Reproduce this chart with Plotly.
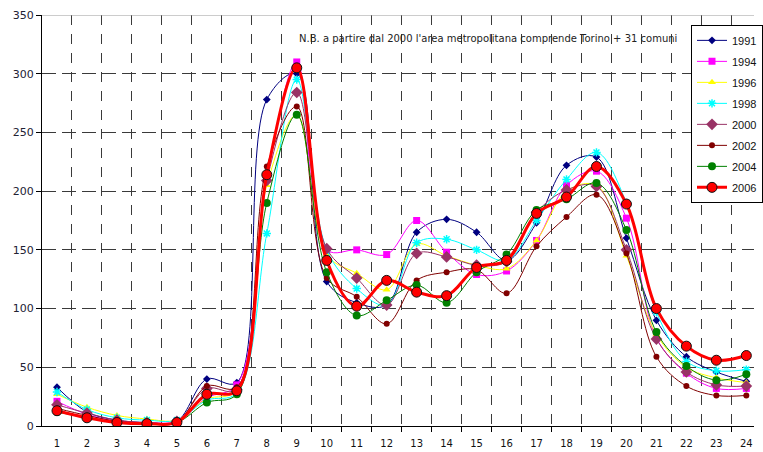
import plotly.graph_objects as go

# Hourly values (hours 1..24) for each survey year
hours = list(range(1, 25))
hour_labels = [str(h) for h in hours]

y1991 = [33, 12, 5, 3, 4, 40, 37, 278, 300, 123, 105, 103, 165, 176, 165, 141, 173, 222, 229, 160, 90, 59, 46, 38]
y1994 = [21, 10, 4, 3, 4, 24, 35, 210, 310, 150, 150, 146, 175, 148, 129, 132, 158, 205, 217, 177, 75, 45, 32, 32]
y1996 = [27, 16, 9, 6, 5, 23, 30, 205, 265, 146, 130, 116, 155, 145, 137, 134, 158, 200, 205, 145, 78, 50, 41, 37]
y1998 = [29, 14, 7, 5, 5, 22, 28, 164, 295, 150, 117, 103, 156, 159, 150, 141, 175, 210, 233, 190, 97, 55, 47, 48]
y2000 = [18, 11, 5, 3, 4, 32, 31, 209, 284, 151, 126, 103, 147, 144, 137, 140, 182, 201, 204, 150, 74, 46, 35, 34]
y2002 = [15, 9, 4, 2, 3, 34, 33, 221, 272, 126, 110, 87, 124, 131, 133, 113, 153, 178, 197, 147, 59, 34, 26, 26]
y2004 = [12, 7, 3, 2, 3, 20, 27, 190, 265, 131, 94, 107, 120, 105, 131, 146, 184, 193, 207, 167, 80, 51, 39, 44]
y2006 = [13, 7, 3, 2, 3, 27, 30, 214, 305, 141, 102, 124, 114, 111, 135, 141, 181, 195, 221, 189, 100, 68, 56, 60]

y_ticks = [0, 50, 100, 150, 200, 250, 300, 350]
note = "N.B. a partire dal 2000 l'area metropolitana comprende Torino + 31 comuni"

series = [
    ("1991", y1991, dict(color="#000080", width=1), dict(symbol="diamond", size=6, color="#000080")),
    ("1994", y1994, dict(color="#FF00FF", width=1), dict(symbol="square", size=7, color="#FF00FF")),
    ("1996", y1996, dict(color="#FFFF00", width=1), dict(symbol="triangle-up", size=7, color="#FFFF00")),
    ("1998", y1998, dict(color="#00FFFF", width=1), dict(symbol="asterisk-open", size=7, color="#00FFFF", line=dict(width=1.5, color="#00FFFF"))),
    ("2000", y2000, dict(color="#993366", width=1), dict(symbol="diamond", size=9, color="#993366")),
    ("2002", y2002, dict(color="#800000", width=1), dict(symbol="circle", size=6, color="#800000")),
    ("2004", y2004, dict(color="#008000", width=1), dict(symbol="circle", size=8, color="#008000")),
    ("2006", y2006, dict(color="#FF0000", width=3), dict(symbol="circle", size=10, color="#FF0000", line=dict(width=1, color="#111111"))),
]

fig = go.Figure()
for name, vals, line, marker in series:
    fig.add_trace(go.Scatter(
        x=hours, y=vals, name=name, legendgroup=name,
        mode="lines+markers",
        line=dict(shape="spline", smoothing=1.0, **line),
        marker=marker,
    ))

grid_color = "#3a3a3a"
boundaries = [h + 0.5 for h in hours]

fig.update_layout(
    width=763, height=452,
    margin=dict(l=42, r=0, t=15, b=26),
    paper_bgcolor="white", plot_bgcolor="white",
    font=dict(family="DejaVu Sans", color="#222222"),
    showlegend=True,
    legend=dict(
        x=0.912, y=0.976, xanchor="left", yanchor="top",
        bgcolor="white", bordercolor="#000000", borderwidth=1,
        font=dict(family="Liberation Sans", size=11, color="#111111"),
        tracegroupgap=2, itemwidth=30,
    ),
    xaxis=dict(
        range=[0.5, 24.256],
        tickvals=hours, ticktext=hour_labels,
        ticks="", showgrid=False, zeroline=False,
        showline=True, linecolor="#000000", linewidth=1,
        tickfont=dict(family="DejaVu Sans", size=10, color="#111111"),
        ticklabelstandoff=8,
        minor=dict(tickvals=boundaries, ticks="outside", ticklen=5, tickcolor="#000000",
                   showgrid=True, gridcolor=grid_color, gridwidth=1, griddash="10px,9px"),
    ),
    yaxis=dict(
        range=[0, 350], tickvals=y_ticks,
        ticks="outside", ticklen=5, tickcolor="#000000",
        showgrid=True, gridcolor=grid_color, gridwidth=1, griddash="14px,6px",
        zeroline=False, showline=True, linecolor="#000000", linewidth=1,
        tickfont=dict(family="DejaVu Sans", size=11, color="#222233"),
    ),
    annotations=[dict(
        text=note, xref="paper", yref="paper", x=0.358, y=0.944,
        xanchor="left", yanchor="middle", showarrow=False,
        font=dict(family="DejaVu Sans", size=10, color="#222222"),
    )],
    shapes=[dict(type="line", xref="paper", yref="y", x0=0, x1=1, y0=350, y1=350,
                 line=dict(color="#999999", width=1))],
)

fig.write_html("out.html")
